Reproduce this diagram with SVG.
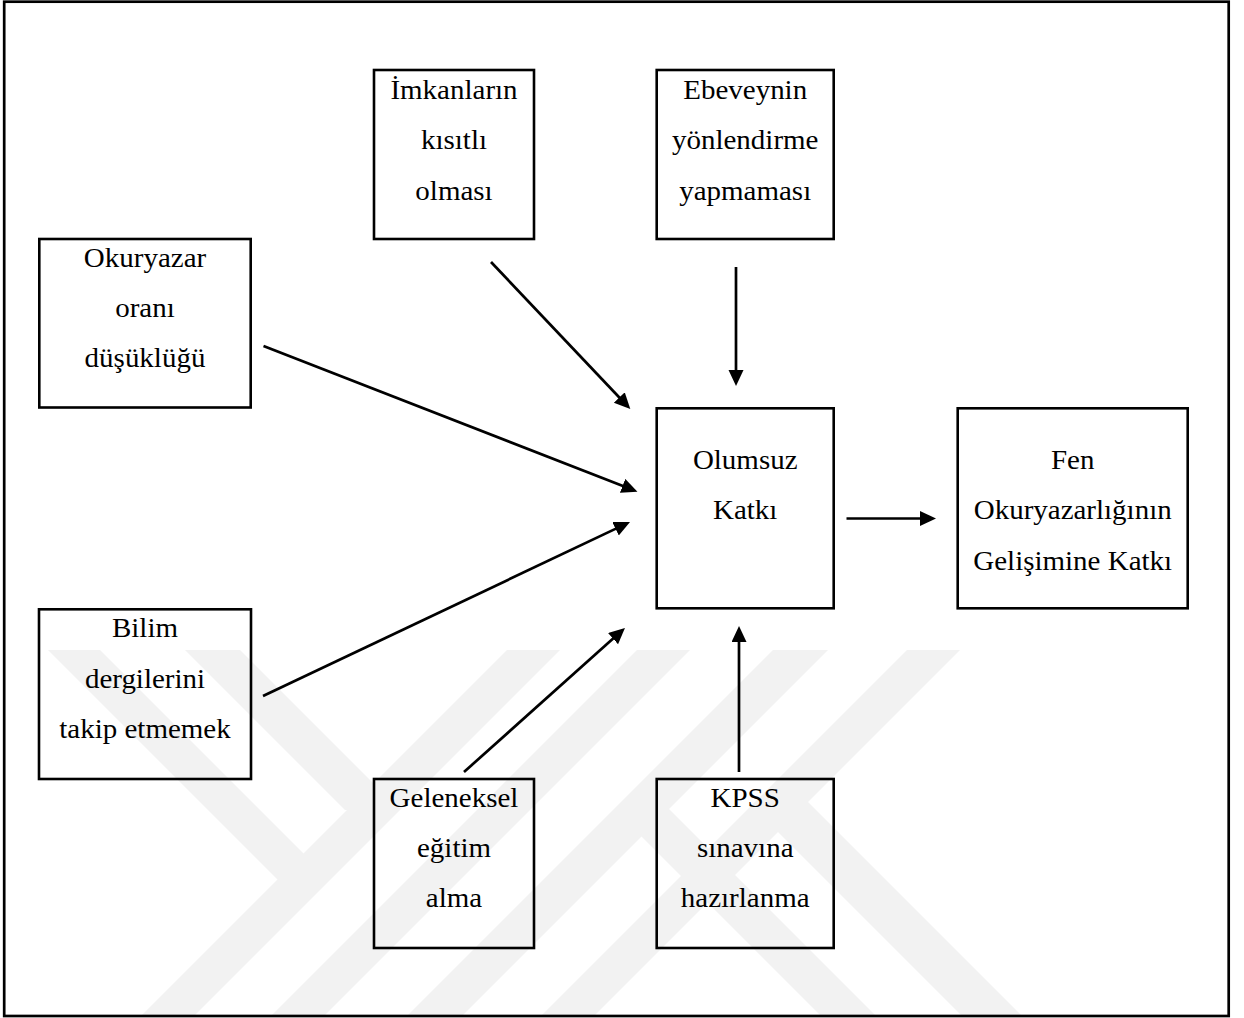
<svg xmlns="http://www.w3.org/2000/svg" width="1244" height="1018" viewBox="0 0 1244 1018">
  <style>
    .box { fill: none; stroke: #000; stroke-width: 2.6; }
    .lbl { font-family: "Liberation Serif", "Times New Roman", serif; font-size: 26.5px; fill: #000; text-anchor: middle; }
    .edge { fill: none; stroke: #000; stroke-width: 2.7; marker-end: url(#arrow); }
    .wm { fill: #f2f2f2; }
  </style>
  <defs>
    <marker id="arrow" markerUnits="userSpaceOnUse" markerWidth="17" markerHeight="16" refX="8" refY="7.5" orient="auto">
      <path d="M0,0 L16,7.5 L0,15 z" fill="#000"/>
    </marker>
    <clipPath id="wmclip">
      <rect x="5.5" y="650" width="1221.5" height="365"/>
    </clipPath>
  </defs>
  <rect x="0" y="0" width="1244" height="1018" fill="#fff"/>

  <g id="watermark" clip-path="url(#wmclip)">
    <polygon class="wm" points="507,650 560,650 192,1018 139,1018"/>
    <polygon class="wm" points="48,650 100,650 330,880 278,880"/>
    <polygon class="wm" points="185,650 240,650 400,810 345,810"/>
    <polygon class="wm" points="637,650 690,650 322,1018 269,1018"/>
    <polygon class="wm" points="773,650 828,650 460,1018 405,1018"/>
    <polygon class="wm" points="907,650 960,650 592,1018 539,1018"/>
    <polygon class="wm" points="790,784 1024,1018 964,1018 760,814"/>
    <polygon class="wm" points="650,790 878,1018 823,1018 625,820"/>
  </g>

  <rect id="frame" x="4.2" y="1.7" width="1224.5" height="1014.3" fill="none" stroke="#000" stroke-width="2.7"/>

  <g id="connectors">
    <line class="edge" x1="491" y1="262" x2="624.8" y2="403.3"/>
    <line class="edge" x1="263.5" y1="346" x2="630" y2="488.8"/>
    <line class="edge" x1="263" y1="696" x2="622.8" y2="525.4"/>
    <line class="edge" x1="464" y1="772" x2="619" y2="633.3"/>
    <line class="edge" x1="739" y1="772" x2="739" y2="634"/>
    <line class="edge" x1="736" y1="267" x2="736" y2="378"/>
    <line class="edge" x1="846.5" y1="518.5" x2="928" y2="518.5"/>
  </g>

  <g id="n-okuryazar">
    <rect class="box" x="39.3" y="239" width="211.4" height="168.5"/>
    <text class="lbl" transform="translate(145 0) scale(1.094 1)"><tspan x="0" y="267">Okuryazar</tspan><tspan x="0" y="317">oranı</tspan><tspan x="0" y="367">düşüklüğü</tspan></text>
  </g>
  <g id="n-imkanlar">
    <rect class="box" x="374" y="70" width="160" height="169"/>
    <text class="lbl" transform="translate(454 0) scale(1.094 1)"><tspan x="0" y="99">İmkanların</tspan><tspan x="0" y="149.5">kısıtlı</tspan><tspan x="0" y="200">olması</tspan></text>
  </g>
  <g id="n-ebeveyn">
    <rect class="box" x="656.7" y="70" width="177" height="169"/>
    <text class="lbl" transform="translate(745.2 0) scale(1.094 1)"><tspan x="0" y="99">Ebeveynin</tspan><tspan x="0" y="149.5">yönlendirme</tspan><tspan x="0" y="200">yapmaması</tspan></text>
  </g>
  <g id="n-olumsuz">
    <rect class="box" x="656.7" y="408.3" width="177" height="200"/>
    <text class="lbl" transform="translate(745.2 0) scale(1.094 1)"><tspan x="0" y="469">Olumsuz</tspan><tspan x="0" y="519">Katkı</tspan></text>
  </g>
  <g id="n-fen">
    <rect class="box" x="957.7" y="408.3" width="230" height="200"/>
    <text class="lbl" transform="translate(1072.7 0) scale(1.094 1)"><tspan x="0" y="469">Fen</tspan><tspan x="0" y="519">Okuryazarlığının</tspan><tspan x="0" y="570">Gelişimine Katkı</tspan></text>
  </g>
  <g id="n-bilim">
    <rect class="box" x="39" y="609.3" width="212" height="169.7"/>
    <text class="lbl" transform="translate(145 0) scale(1.094 1)"><tspan x="0" y="637">Bilim</tspan><tspan x="0" y="688">dergilerini</tspan><tspan x="0" y="738">takip etmemek</tspan></text>
  </g>
  <g id="n-geleneksel">
    <rect class="box" x="374" y="779" width="160" height="169"/>
    <text class="lbl" transform="translate(454 0) scale(1.094 1)"><tspan x="0" y="807">Geleneksel</tspan><tspan x="0" y="857">eğitim</tspan><tspan x="0" y="907">alma</tspan></text>
  </g>
  <g id="n-kpss">
    <rect class="box" x="656.7" y="779" width="177" height="169"/>
    <text class="lbl" transform="translate(745.2 0) scale(1.094 1)"><tspan x="0" y="807">KPSS</tspan><tspan x="0" y="857">sınavına</tspan><tspan x="0" y="907">hazırlanma</tspan></text>
  </g>
</svg>
